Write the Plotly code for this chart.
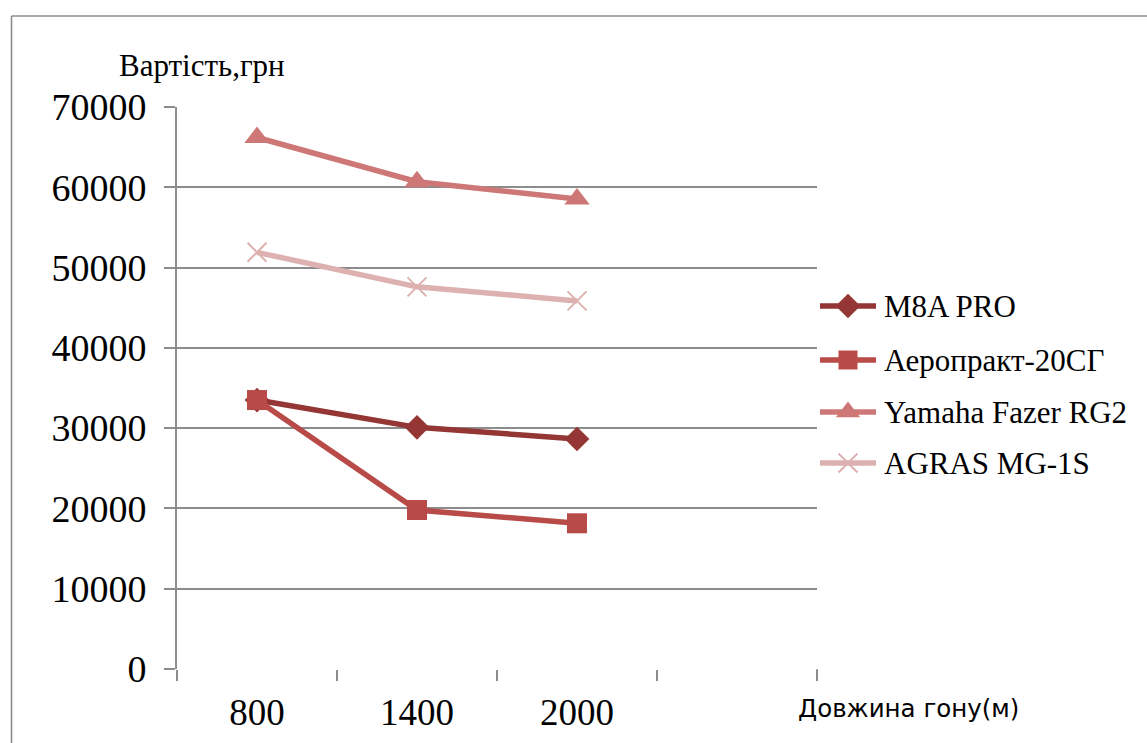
import plotly.graph_objects as go

categories = ["800", "1400", "2000"]
all_slots = ["800", "1400", "2000", " "]
m8a_pro = [33500, 30100, 28650]
aeroprakt = [33500, 19800, 18150]
yamaha = [66200, 60700, 58550]
agras = [51900, 47600, 45850]

series_names = ["M8A PRO", "Аеропракт-20СГ", "Yamaha Fazer RG2", "AGRAS MG-1S"]
series_values = [m8a_pro, aeroprakt, yamaha, agras]
colors = ["#943634", "#B84A47", "#CD7876", "#DDB1B0"]
symbols = ["diamond", "square", "triangle-up", "x-thin"]
sizes = [19, 20, 22, 19]
legend_sizes = [19, 19, 21, 19]
legend_rows = [306, 360, 412, 463]   # legend row centres (px) in the legend panel

W, H = 1147, 743
L, T, B = 177, 107, 74
PW = W - L                 # paper width (no right margin)
PH = H - T - B
main_w = 640 / PW

fig = go.Figure()
# invisible trace to create the empty 4th category slot
fig.add_trace(go.Scatter(x=all_slots, y=[None] * 4, mode="markers",
                         showlegend=False, hoverinfo="skip"))
for i, (name, vals) in enumerate(zip(series_names, series_values)):
    marker = dict(symbol=symbols[i], size=sizes[i], color=colors[i])
    if symbols[i] == "x-thin":
        marker["line"] = dict(color=colors[i], width=2)
    fig.add_trace(go.Scatter(
        x=categories, y=vals, name=name, mode="lines+markers",
        line=dict(color=colors[i], width=5.5),
        marker=marker, showlegend=False,
    ))

# custom legend panel on its own axes
for i, name in enumerate(series_names):
    c = legend_rows[i]
    fig.add_trace(go.Scatter(x=[820, 876], y=[c, c], mode="lines",
                             line=dict(color=colors[i], width=5.5),
                             xaxis="x2", yaxis="y2", showlegend=False, hoverinfo="skip"))
    lm = dict(symbol=symbols[i], size=legend_sizes[i], color=colors[i])
    if symbols[i] == "x-thin":
        lm["line"] = dict(color=colors[i], width=2)
    fig.add_trace(go.Scatter(x=[848], y=[c], mode="markers", marker=lm,
                             xaxis="x2", yaxis="y2", showlegend=False, hoverinfo="skip"))

serif = "Liberation Serif, Times New Roman, serif"

def px(xp):
    return (xp - L) / PW

def py(yp):
    return (H - B - yp) / PH

annotations = [
    dict(text="Вартість,грн", xref="paper", yref="paper",
         x=px(202), y=py(66), xanchor="center", yanchor="middle",
         showarrow=False, font=dict(family=serif, size=31, color="black")),
    dict(text="Довжина гону(м)", xref="paper", yref="paper",
         x=px(908), y=py(708), xanchor="center", yanchor="middle",
         showarrow=False, font=dict(family="DejaVu Sans", size=24.5, color="black")),
]
for i, name in enumerate(series_names):
    annotations.append(dict(text=name, xref="x2", yref="y2", x=882, y=legend_rows[i],
                            xanchor="left", yanchor="middle", showarrow=False,
                            font=dict(family=serif, size=31, color="black")))

fig.update_layout(
    width=W, height=H,
    margin=dict(l=L, r=0, t=T, b=B),
    paper_bgcolor="white", plot_bgcolor="white",
    font=dict(family=serif, color="black"),
    showlegend=False,
    xaxis=dict(type="category", categoryorder="array", categoryarray=all_slots,
               domain=[0, main_w],
               range=[-0.5, 3.5], showgrid=False, showline=False,
               ticks="outside", tickson="boundaries", ticklen=11, tickwidth=1.5,
               tickcolor="#8c8c8c", tickfont=dict(family=serif, size=37),
               ticklabelstandoff=18,
               zeroline=False, fixedrange=True),
    yaxis=dict(range=[0, 70000], tickvals=[0, 10000, 20000, 30000, 40000, 50000, 60000, 70000],
               ticktext=["0", "10000", "20000", "30000", "40000", "50000", "60000", "70000"],
               showgrid=True, gridcolor="#8c8c8c", gridwidth=1.6,
               showline=True, linecolor="#8c8c8c", linewidth=1.6,
               ticks="outside", ticklen=11, tickwidth=1.6, tickcolor="#8c8c8c",
               tickfont=dict(family=serif, size=38), ticklabelstandoff=10,
               zeroline=False, fixedrange=True),
    xaxis2=dict(domain=[main_w, 1], range=[L + 640, W], visible=False,
                anchor="y2", fixedrange=True),
    yaxis2=dict(domain=[0, 1], range=[H - B, T], visible=False,
                anchor="x2", fixedrange=True),
    annotations=annotations,
    shapes=[
        dict(type="line", xref="paper", yref="paper",
             x0=px(11.5), x1=px(11.5), y0=py(16), y1=py(760),
             line=dict(color="#8c8c8c", width=1.6)),
        dict(type="line", xref="paper", yref="paper",
             x0=px(11.5), x1=px(1160), y0=py(16), y1=py(16),
             line=dict(color="#8c8c8c", width=1.6)),
        dict(type="line", xref="paper", yref="paper",
             x0=main_w, x1=main_w, y0=0, y1=py(679),
             line=dict(color="#8c8c8c", width=1.5)),
    ],
)

fig.write_html("out.html")
